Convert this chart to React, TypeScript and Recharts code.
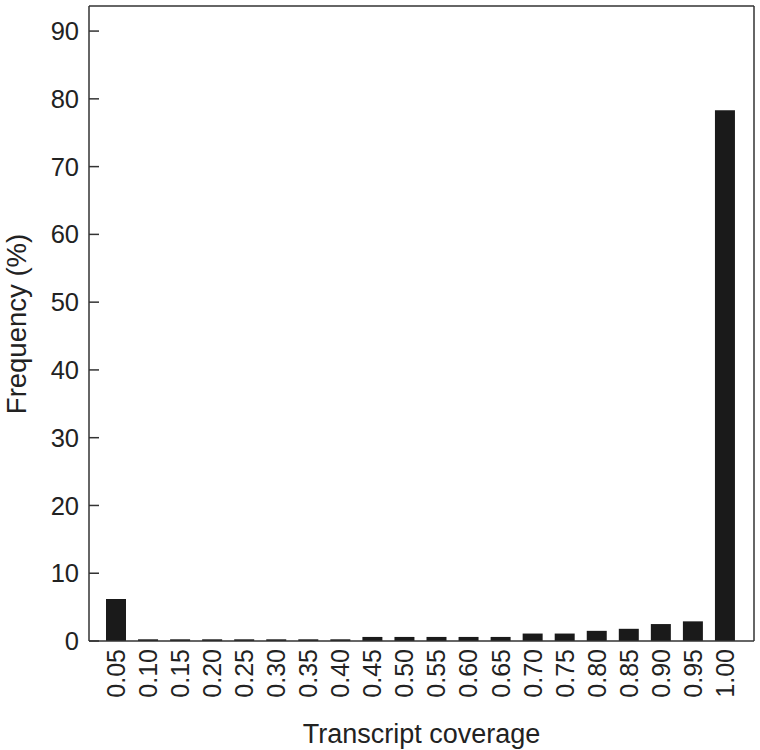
import { BarChart, Bar, XAxis, YAxis } from "recharts";

const coverage = [
  "0.05", "0.10", "0.15", "0.20", "0.25", "0.30", "0.35", "0.40", "0.45", "0.50",
  "0.55", "0.60", "0.65", "0.70", "0.75", "0.80", "0.85", "0.90", "0.95", "1.00",
];
const frequency = [
  6.2, 0.25, 0.25, 0.25, 0.25, 0.25, 0.25, 0.25, 0.6, 0.6,
  0.6, 0.6, 0.6, 1.1, 1.1, 1.5, 1.8, 2.5, 2.9, 78.3,
];
const yTicks = [0, 10, 20, 30, 40, 50, 60, 70, 80, 90];

const data = coverage.map((c, i) => ({ coverage: c, freq: frequency[i] }));

const FONT = "'Liberation Sans', Arial, Helvetica, sans-serif";
const INK = "#222";
const LINE = "#333";

// y ticks point inward, labels sit outside the frame
const YTick = (props: any) => {
  const { x, y, payload } = props;
  return (
    <g>
      <line x1={x} x2={x + 10} y1={y} y2={y} stroke={LINE} strokeWidth={1.5} />
      <text x={x - 10} y={y} dy="0.355em" textAnchor="end" fontSize={25.5} fontFamily={FONT} fill={INK}>
        {payload.value}
      </text>
    </g>
  );
};

const XTick = (props: any) => {
  const { x, payload } = props;
  const y = 649;
  return (
    <text
      transform={`translate(${x}, ${y}) rotate(-90)`}
      textAnchor="end"
      dy="0.355em"
      fontSize={25}
      fontFamily={FONT}
      fill={INK}
    >
      {payload.value}
    </text>
  );
};

export default function App() {
  return (
    <div style={{ position: "absolute", left: 0, top: 0, width: 760, height: 750, background: "#fff" }}>
      <BarChart width={760} height={750} data={data} margin={{ top: 5, right: 5, left: 0, bottom: 0 }}>
        <XAxis
          dataKey="coverage"
          height={109}
          interval={0}
          padding={{ left: 11, right: 13 }}
          tickLine={false}
          tick={<XTick />}
          axisLine={{ stroke: LINE, strokeWidth: 1.5 }}
          label={{
            value: "Transcript coverage",
            position: "insideBottom",
            offset: 7,
            fontSize: 27,
            fontFamily: FONT,
            fill: INK,
          }}
        />
        <XAxis xAxisId="top" dataKey="coverage" orientation="top" height={1} tick={false} tickLine={false}
          axisLine={{ stroke: LINE, strokeWidth: 1.5 }} />
        <YAxis
          width={89}
          domain={[0, 93.7]}
          ticks={yTicks}
          tickSize={0}
          tickMargin={0}
          tickLine={false}
          tick={<YTick />}
          axisLine={{ stroke: LINE, strokeWidth: 1.5 }}
          allowDataOverflow
          label={() => (
            <text transform="translate(26, 324) rotate(-90)" textAnchor="middle"
              fontSize={27.5} fontFamily={FONT} fill={INK}>
              Frequency (%)
            </text>
          )}
        />
        <YAxis yAxisId="right" orientation="right" width={1} domain={[0, 93.7]} tick={false} tickLine={false}
          axisLine={{ stroke: LINE, strokeWidth: 1.5 }} />
        <Bar dataKey="freq" fill="#1a1a1a" barSize={20} isAnimationActive={false} />
      </BarChart>
    </div>
  );
}
